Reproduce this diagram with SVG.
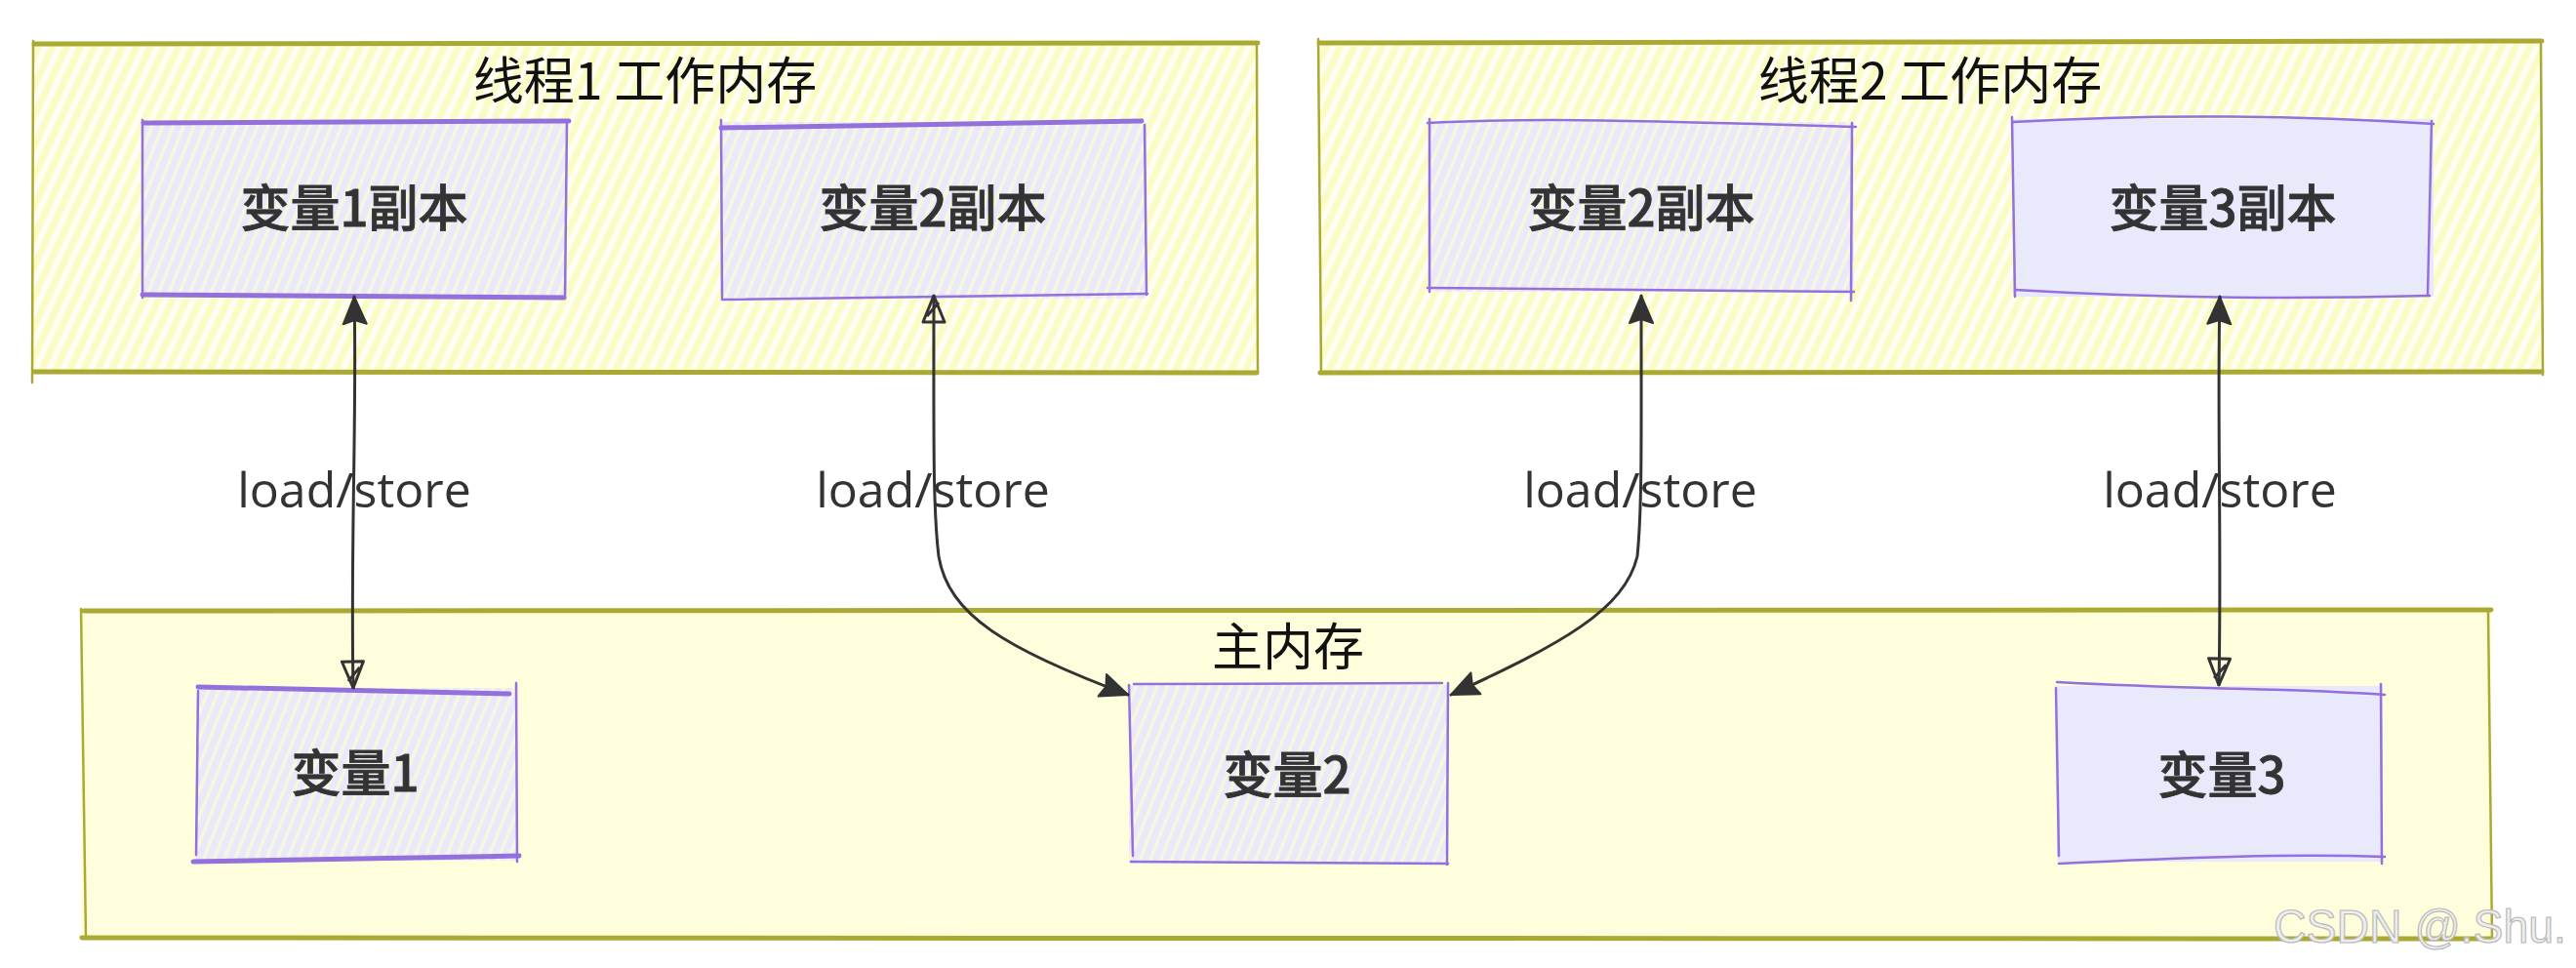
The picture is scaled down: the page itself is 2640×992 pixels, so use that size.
<svg xmlns="http://www.w3.org/2000/svg" width="2640" height="992" viewBox="0 0 2640 992">
<style>
.cl-line{stroke:#aaaa33;fill:none;stroke-linecap:round}
.nd-line{stroke:#9370DB;fill:none;stroke-linecap:round}
.thick{stroke-width:5}
.thin{stroke-width:2.5}
.title{font-family:"Noto Sans CJK SC","Noto Sans",sans-serif;font-size:52px;fill:#111111;text-anchor:middle}
.label{font-family:"Noto Sans CJK SC","Noto Sans",sans-serif;font-size:51px;font-weight:500;fill:#333333;text-anchor:middle;stroke:#333333;stroke-width:0.8}
.elabel{font-family:"Open Sans","Noto Sans",sans-serif;font-size:50px;fill:#333333;text-anchor:middle}
.edge{stroke:#333333;stroke-width:3;fill:none;stroke-linecap:round}
</style>
<defs>
<pattern id="hYellow" patternUnits="userSpaceOnUse" width="13" height="13" patternTransform="rotate(25)">
<rect width="13" height="13" fill="#fefef3"/>
<line x1="4" y1="0" x2="4" y2="13" stroke="#fbfbc6" stroke-width="7"/>
</pattern>
<pattern id="hLav" patternUnits="userSpaceOnUse" width="10" height="10" patternTransform="rotate(22)">
<rect width="10" height="10" fill="#e9e9fb"/>
<line x1="3" y1="0" x2="3" y2="10" stroke="#f7f7df" stroke-width="3.5"/>
</pattern>
<marker id="aFill" viewBox="0 0 30 30" refX="29" refY="15" markerWidth="30" markerHeight="30" markerUnits="userSpaceOnUse" orient="auto-start-reverse">
<path d="M1,3 L29,15 L1,27 L5,15 z" fill="#333333" stroke="#333333" stroke-width="2" stroke-linejoin="round"/>
</marker>
<marker id="aOpen" viewBox="0 0 30 30" refX="29" refY="15" markerWidth="30" markerHeight="30" markerUnits="userSpaceOnUse" orient="auto-start-reverse">
<path d="M2,4 L29,15 L2,26 z M8,8 L22,20" fill="none" stroke="#333333" stroke-width="3" stroke-linejoin="round"/>
</marker>
</defs>
<rect width="2640" height="992" fill="#ffffff"/>

<g id="cluster-thread1">
<rect x="33" y="45" width="1255" height="336" fill="url(#hYellow)"/>
<path class="cl-line thick" d="M35,45 L1289,44"/>
<path class="cl-line thick" d="M35,381 L1288,382"/>
<path class="cl-line thin" d="M34,42 L33,392"/>
<path class="cl-line thin" d="M1288,44 L1289,381"/>
<text class="title" x="661" y="102">线程1 工作内存</text>
</g>

<g id="cluster-thread2">
<rect x="1352" y="43" width="1253" height="339" fill="url(#hYellow)"/>
<path class="cl-line thick" d="M1352,44 L2605,42"/>
<path class="cl-line thick" d="M1353,382 L2605,381"/>
<path class="cl-line thin" d="M1351,40 L1354,383"/>
<path class="cl-line thin" d="M2604,42 L2606,384"/>
<text class="title" x="1978" y="102">线程2 工作内存</text>
</g>

<g id="cluster-main">
<rect x="83" y="625" width="2470" height="336" fill="#fefedc"/>
<path class="cl-line thick" d="M86,626 L2553,625"/>
<path class="cl-line thick" d="M84,961 L2553,962"/>
<path class="cl-line thin" d="M83,624 L88,960"/>
<path class="cl-line thin" d="M2550,627 L2554,962"/>
<text class="title" x="1320" y="682">主内存</text>
</g>

<g id="node-v1copy">
<rect x="145" y="125" width="436" height="179" fill="url(#hLav)"/>
<path class="nd-line thick" d="M147,126 L583,124"/>
<path class="nd-line thick" d="M146,302 L578,305"/>
<path class="nd-line thin" d="M146,123 L146,305"/>
<path class="nd-line thin" d="M581,125 L579,306"/>
<text class="label" x="363" y="232">变量1副本</text>
</g>

<g id="node-v2copy-t1">
<rect x="739" y="125" width="436" height="181" fill="url(#hLav)"/>
<path class="nd-line thick" d="M739,131 L1170,124"/>
<path class="nd-line thin" d="M740,307 L1176,301"/>
<path class="nd-line thin" d="M739,123 L740,305"/>
<path class="nd-line thin" d="M1173,128 L1175,302"/>
<text class="label" x="956" y="232">变量2副本</text>
</g>

<g id="node-v2copy-t2">
<rect x="1464" y="125" width="436" height="174" fill="url(#hLav)"/>
<path class="nd-line thin" d="M1463,126 C1580,120 1700,124 1902,130"/>
<path class="nd-line thin" d="M1463,295 L1900,299"/>
<path class="nd-line thin" d="M1465,122 L1465,299"/>
<path class="nd-line thin" d="M1898,126 L1897,308"/>
<text class="label" x="1682" y="232">变量2副本</text>
</g>

<g id="node-v3copy">
<rect x="2063" y="122" width="431" height="182" fill="#e9e9fc"/>
<path class="nd-line thin" d="M2063,125 C2200,117 2350,118 2494,127"/>
<path class="nd-line thin" d="M2065,297 C2200,305 2350,307 2490,303"/>
<path class="nd-line thin" d="M2062,120 L2065,304"/>
<path class="nd-line thin" d="M2492,124 L2488,303"/>
<text class="label" x="2278" y="232">变量3副本</text>
</g>

<g id="node-v1">
<rect x="201" y="705" width="329" height="177" fill="url(#hLav)"/>
<path class="nd-line thick" d="M203,704 L522,711"/>
<path class="nd-line thick" d="M198,883 L532,877"/>
<path class="nd-line thin" d="M203,708 L201,876"/>
<path class="nd-line thin" d="M529,700 L530,883"/>
<text class="label" x="364" y="811">变量1</text>
</g>

<g id="node-v2">
<rect x="1157" y="702" width="327" height="183" fill="url(#hLav)"/>
<path class="nd-line thin" d="M1162,701 L1478,700"/>
<path class="nd-line thin" d="M1159,883 L1484,885"/>
<path class="nd-line thin" d="M1157,702 L1161,877"/>
<path class="nd-line thin" d="M1484,700 L1483,886"/>
<text class="label" x="1319" y="813">变量2</text>
</g>

<g id="node-v3">
<rect x="2108" y="703" width="334" height="180" fill="#e9e9fc"/>
<path class="nd-line thin" d="M2108,699 C2250,707 2350,705 2444,712"/>
<path class="nd-line thin" d="M2110,885 C2250,878 2350,875 2444,878"/>
<path class="nd-line thin" d="M2107,705 L2110,877"/>
<path class="nd-line thin" d="M2440,701 L2441,885"/>
<text class="label" x="2277" y="813">变量3</text>
</g>

<g id="edges">
<path class="edge" d="M363,304 C366,420 359,560 362,705" marker-start="url(#aFill)" marker-end="url(#aOpen)"/>
<path class="edge" d="M957,303 C957,450 956,520 962,570 C972,630 1030,665 1156,712" marker-start="url(#aOpen)" marker-end="url(#aFill)"/>
<path class="edge" d="M1682,303 C1682,450 1683,520 1678,570 C1665,625 1600,660 1487,712" marker-start="url(#aFill)" marker-end="url(#aFill)"/>
<path class="edge" d="M2275,304 C2272,420 2277,560 2274,702" marker-start="url(#aFill)" marker-end="url(#aOpen)"/>
<text class="elabel" x="363" y="520">load/store</text>
<text class="elabel" x="956" y="520">load/store</text>
<text class="elabel" x="1681" y="520">load/store</text>
<text class="elabel" x="2275" y="520">load/store</text>
</g>

<text x="2330" y="966" textLength="300" lengthAdjust="spacingAndGlyphs" font-family="Liberation Sans, sans-serif" font-size="48" fill="#eeeeee" stroke="#b8b8b8" stroke-width="1.2">CSDN @.Shu.</text>
</svg>
